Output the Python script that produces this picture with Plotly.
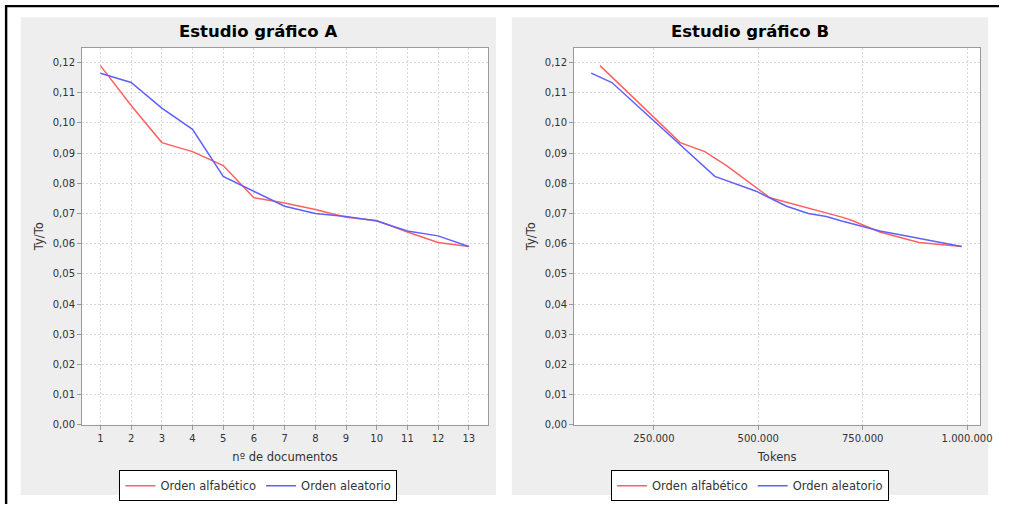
import plotly.graph_objects as go

# ---------------- data ----------------
docs = [1, 2, 3, 4, 5, 6, 7, 8, 9, 10, 11, 12, 13]
alfabetico_A = [0.1190, 0.1058, 0.0935, 0.0905, 0.0859, 0.0752, 0.0735, 0.0713, 0.0688, 0.0677, 0.0639, 0.0604, 0.0591]
aleatorio_A = [0.1165, 0.1134, 0.1049, 0.0979, 0.0823, 0.0774, 0.0724, 0.0700, 0.0690, 0.0675, 0.0642, 0.0626, 0.0591]

tokens_alfabetico = [121000, 221000, 313000, 372000, 424000, 528000, 575000, 634000, 700000, 725000, 791000, 885000, 987000]
tokens_aleatorio = [100000, 149500, 217000, 272500, 396000, 495000, 568000, 620000, 663000, 700000, 791000, 852000, 987000]
alfabetico_B = alfabetico_A
aleatorio_B = aleatorio_A

names = ["Orden alfabético", "Orden aleatorio"]
titles = ["Estudio gráfico A", "Estudio gráfico B"]
x_titles = ["nº de documentos", "Tokens"]
y_title = "Ty/To"

# ---------------- layout helpers ----------------
W, H = 1011, 509
def px(x):
    return x / W
def py(y):
    return 1 - y / H

RED = "#ff6060"
BLUE = "#6060ff"
FONT = "DejaVu Sans"
TXT = "#333333"

fig = go.Figure()

fig.add_trace(go.Scatter(x=docs, y=alfabetico_A, mode="lines", name=names[0],
                         line=dict(color=RED, width=1.5), xaxis="x", yaxis="y", legend="legend"))
fig.add_trace(go.Scatter(x=docs, y=aleatorio_A, mode="lines", name=names[1],
                         line=dict(color=BLUE, width=1.5), xaxis="x", yaxis="y", legend="legend"))
fig.add_trace(go.Scatter(x=tokens_alfabetico, y=alfabetico_B, mode="lines", name=names[0],
                         line=dict(color=RED, width=1.5), xaxis="x2", yaxis="y2", legend="legend2"))
fig.add_trace(go.Scatter(x=tokens_aleatorio, y=aleatorio_B, mode="lines", name=names[1],
                         line=dict(color=BLUE, width=1.5), xaxis="x2", yaxis="y2", legend="legend2"))

# plot areas (pixels)
L1, R1 = 83, 494
L2, R2 = 581, 992
TOP, BOT = 48, 429

common_axis = dict(
    showline=True, linecolor="#9a9a9a", linewidth=1, mirror=True,
    showgrid=True, gridcolor="#d9d9d9", griddash="2px,2px", gridwidth=1,
    ticks="outside", ticklen=4, tickcolor="#9a9a9a",
    tickfont=dict(family=FONT, size=10, color=TXT),
    zeroline=False,
)

yaxis_common = dict(common_axis, range=[0, 0.125], tick0=0, dtick=0.01, tickformat=".2f",
                    title=dict(text=y_title, font=dict(family=FONT, size=11.5, color=TXT), standoff=6))

fig.update_layout(
    width=W, height=H,
    margin=dict(l=0, r=0, t=0, b=0),
    paper_bgcolor="white",
    plot_bgcolor="white",
    separators=",.",
    xaxis=dict(common_axis, domain=[px(L1), px(R1)], range=[0.4, 13.63], tick0=1, dtick=1,
               anchor="y",
               title=dict(text=x_titles[0], font=dict(family=FONT, size=11.5, color=TXT), standoff=10)),
    yaxis=dict(yaxis_common, domain=[py(BOT), py(TOP)], anchor="x"),
    xaxis2=dict(common_axis, domain=[px(L2), px(R2)], range=[59000, 1031500], tick0=0, dtick=250000,
                tickformat=",d", anchor="y2",
                title=dict(text=x_titles[1], font=dict(family=FONT, size=11.5, color=TXT), standoff=10)),
    yaxis2=dict(yaxis_common, domain=[py(BOT), py(TOP)], anchor="x2"),
    legend=dict(orientation="h", x=px(261.5), xanchor="center", y=py(475), yanchor="top",
                bgcolor="white", bordercolor="black", borderwidth=1, itemwidth=30,
                font=dict(family=FONT, size=11.5, color=TXT), tracegroupgap=0),
    legend2=dict(orientation="h", x=px(759), xanchor="center", y=py(475), yanchor="top",
                 bgcolor="white", bordercolor="black", borderwidth=1, itemwidth=30,
                 font=dict(family=FONT, size=11.5, color=TXT), tracegroupgap=0),
    showlegend=True,
)

shapes = []
# gray panels
for (x0, x1) in [(21, 502), (518, 1000)]:
    shapes.append(dict(type="rect", xref="paper", yref="paper", x0=px(x0), x1=px(x1), y0=py(500), y1=py(17.5),
                       fillcolor="#eeeeee", line=dict(width=0), layer="below"))
# white plot backgrounds
for (x0, x1) in [(L1, R1), (L2, R2)]:
    shapes.append(dict(type="rect", xref="paper", yref="paper", x0=px(x0), x1=px(x1), y0=py(BOT), y1=py(TOP),
                       fillcolor="white", line=dict(width=0), layer="below"))
# black frame at top and left
shapes.append(dict(type="line", xref="paper", yref="paper", x0=px(5), x1=1, y0=py(6.2), y1=py(6.2),
                   line=dict(color="black", width=2.4)))
shapes.append(dict(type="line", xref="paper", yref="paper", x0=px(6.2), x1=px(6.2), y0=py(5), y1=0,
                   line=dict(color="black", width=2.4)))
fig.update_layout(shapes=shapes)

for t, cx in zip(titles, [261.5, 759]):
    fig.add_annotation(text="<b>" + t + "</b>", xref="paper", yref="paper", x=px(cx), y=py(32),
                       xanchor="center", yanchor="middle", showarrow=False,
                       font=dict(family=FONT, size=16.5, color="black"))

fig.write_html("out.html")
